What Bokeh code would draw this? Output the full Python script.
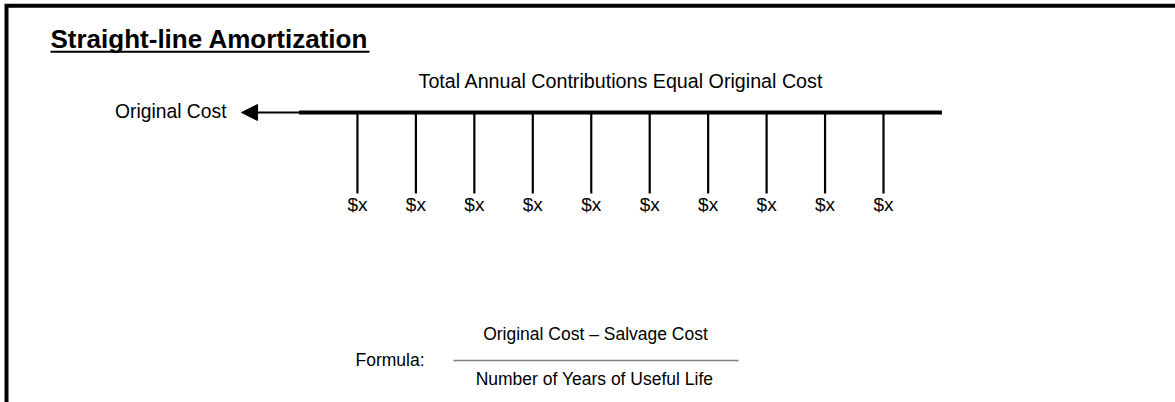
from bokeh.plotting import figure
from bokeh.models import Range1d, Arrow, NormalHead, ColumnDataSource
from bokeh.core.properties import value
from bokeh.embed import file_html
from bokeh.resources import INLINE

# ---- content / data ----
title = "Straight-line Amortization"
subtitle = "Total Annual Contributions Equal Original Cost"
origin_label = "Original Cost"
years = [1, 2, 3, 4, 5, 6, 7, 8, 9, 10]
payments = ["$x", "$x", "$x", "$x", "$x", "$x", "$x", "$x", "$x", "$x"]
formula_label = "Formula:"
numerator = "Original Cost \u2013 Salvage Cost"
denominator = "Number of Years of Useful Life"

# ---- layout (pixel space of the canvas) ----
W, H = 1175, 402
X0, STEP = 298.5, 58.45          # timeline: year 0 position and spacing per year
LINE_Y = 112
TICK_BOTTOM = 193
FONT = value("Liberation Sans")


def yx(y):
    return X0 + STEP * y


p = figure(width=W, height=H, x_range=Range1d(0, W), y_range=Range1d(H, 0),
           output_backend="svg", toolbar_location=None, min_border=0)
p.axis.visible = False
p.grid.visible = False
p.outline_line_color = None
p.background_fill_color = "white"
p.border_fill_color = "white"
p.styles = {"position": "absolute", "left": "0px", "top": "0px"}

# frame (top and left edges)
p.line([6, 6, W], [H, 5.3, 5.3], line_color="black", line_width=4, line_join="miter")

# title with underline
p.text(x=[50], y=[38.5], text=[title], text_font=FONT, text_font_size="26px",
       text_font_style="bold", text_align="left", text_baseline="middle",
       text_color="black")
p.segment(x0=[50], y0=[51.2], x1=[369], y1=[51.2], line_color="black", line_width=2)

# subtitle
p.text(x=[620.5], y=[80.5], text=[subtitle], text_font=FONT, text_font_size="19.7px",
       text_align="center", text_baseline="middle", text_color="black")

# timeline
end_year = len(years) + 1
p.segment(x0=[yx(0)], y0=[LINE_Y], x1=[yx(end_year)], y1=[LINE_Y],
          line_color="black", line_width=4)
p.add_layout(Arrow(end=NormalHead(size=16, fill_color="black", line_color="black",
                                  line_width=1),
                   x_start=yx(0), y_start=LINE_Y, x_end=yx(-1) + 1, y_end=LINE_Y,
                   line_color="black", line_width=2))
p.text(x=[226], y=[111], text=[origin_label], text_font=FONT, text_font_size="19.3px",
       text_align="right", text_baseline="middle", text_color="black")

src = ColumnDataSource(dict(
    x=[yx(y) for y in years],
    y0=[LINE_Y] * len(years),
    y1=[TICK_BOTTOM] * len(years),
    ly=[203.5] * len(years),
    label=payments,
))
p.segment(x0="x", y0="y0", x1="x", y1="y1", source=src, line_color="black", line_width=2.2)
p.text(x="x", y="ly", text="label", source=src, text_font=FONT, text_font_size="19px",
       text_align="center", text_baseline="middle", text_color="black")

# formula
p.text(x=[355], y=[359.5], text=[formula_label], text_font=FONT, text_font_size="17.5px",
       text_align="left", text_baseline="middle", text_color="black")
p.text(x=[595], y=[333.5], text=[numerator], text_font=FONT, text_font_size="17.5px",
       text_align="center", text_baseline="middle", text_color="black")
p.segment(x0=[453], y0=[360], x1=[738], y1=[360], line_color="#808080", line_width=1.5)
p.text(x=[594], y=[378.5], text=[denominator], text_font=FONT, text_font_size="17.5px",
       text_align="center", text_baseline="middle", text_color="black")

open("out.html", "w").write(file_html(p, INLINE))
